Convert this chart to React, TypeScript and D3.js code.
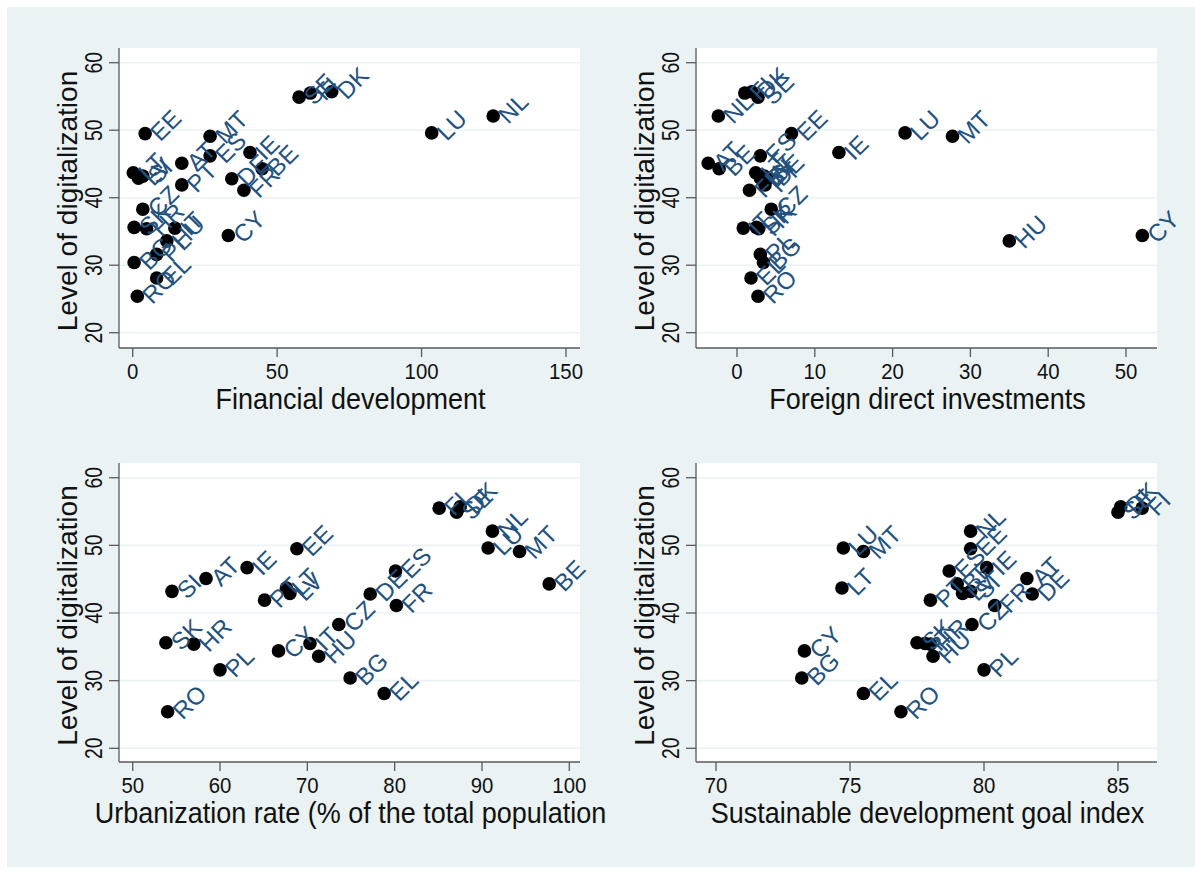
import React from "react";
import * as d3 from "d3";

const countries = ["AT","BE","BG","CY","CZ","DE","DK","EE","EL","ES","FI","FR","HR","HU","IE","IT","LT","LU","LV","MT","NL","PL","PT","RO","SE","SI","SK"];
const digitalization = [45.1,44.3,30.4,34.4,38.3,42.8,55.7,49.5,28.1,46.2,55.5,41.1,35.4,33.6,46.7,35.5,43.7,49.6,42.9,49.1,52.1,31.6,41.9,25.4,54.9,43.2,35.6];
const financialDev = [17.0,44.8,0.5,33.1,3.5,34.3,68.9,4.3,8.3,26.8,61.5,38.5,4.8,11.8,40.6,14.6,0.2,103.5,2.0,26.8,124.8,8.3,17.0,1.6,57.6,3.5,0.5];
const fdi = [-3.7,-2.3,3.4,52.1,4.4,3.9,1.9,7.0,1.8,3.0,1.0,1.6,2.8,35.0,13.1,0.8,2.4,21.6,3.0,27.7,-2.4,3.0,3.6,2.7,2.7,3.5,2.5];
const urbanization = [58.4,97.7,74.9,66.7,73.6,77.2,87.5,68.8,78.8,80.1,85.1,80.2,57.0,71.3,63.1,70.3,67.6,90.7,68.0,94.3,91.2,60.0,65.1,54.0,87.1,54.5,53.8];
const sdg = [81.6,79.0,73.2,73.3,79.55,81.8,85.1,79.5,75.5,78.7,85.9,80.4,78.0,78.1,80.1,77.8,74.7,74.75,79.2,75.5,79.5,80.0,78.0,76.9,85.0,79.5,77.5];

const yTicks = [20, 30, 40, 50, 60];
const xTicksFin = [0, 50, 100, 150];
const xTicksFdi = [0, 10, 20, 30, 40, 50];
const xTicksUrb = [50, 60, 70, 80, 90, 100];
const xTicksSdg = [70, 75, 80, 85];

const yTitle = "Level of digitalization";

const FONT = "'Liberation Sans', Arial, Helvetica, sans-serif";
const BG = "#eaf2f3";
const LABEL = "#22517e";
const AXIS = "#5a5a5a";

type PanelProps = {
  xs: number[];
  xTicks: number[];
  xDomain: [number, number];
  xRange: [number, number];
  box: [number, number, number, number]; // left, top, right, bottom
  yRange: [number, number];
  title: string;
};

function Panel({ xs, xTicks, xDomain, xRange, box, yRange, title }: PanelProps) {
  const [L, T, R, B] = box;
  const x = d3.scaleLinear().domain(xDomain).range(xRange);
  const y = d3.scaleLinear().domain([20, 60]).range(yRange);
  return (
    <g>
      <rect x={L} y={T} width={R - L} height={B - T} fill="#ffffff" />
      {yTicks.map((t) => (
        <line key={"g" + t} x1={L} x2={R} y1={y(t)} y2={y(t)} stroke={BG} strokeWidth={1.6} />
      ))}
      <line x1={L} x2={L} y1={T} y2={B} stroke={AXIS} strokeWidth={1.3} />
      <line x1={L} x2={R} y1={B} y2={B} stroke={AXIS} strokeWidth={1.3} />
      {yTicks.map((t) => (
        <g key={"y" + t}>
          <line x1={L - 10} x2={L} y1={y(t)} y2={y(t)} stroke={AXIS} strokeWidth={1.3} />
          <text
            transform={`translate(${L - 17},${y(t)}) rotate(-90) scale(0.92,1.1)`}
            textAnchor="middle"
            fontSize={21}
            fontFamily={FONT}
            fill="#111"
          >
            {t}
          </text>
        </g>
      ))}
      {xTicks.map((t) => (
        <g key={"x" + t}>
          <line x1={x(t)} x2={x(t)} y1={B} y2={B + 9} stroke={AXIS} strokeWidth={1.3} />
          <text
            transform={`translate(${x(t)},${B + 31}) scale(0.97,1.04)`}
            textAnchor="middle"
            fontSize={21}
            fontFamily={FONT}
            fill="#111"
          >
            {t}
          </text>
        </g>
      ))}
      <text
        transform={`translate(${L - 42},${(T + B) / 2 + 3}) rotate(-90) scale(1.08,1.05)`}
        textAnchor="middle"
        fontSize={26}
        fontFamily={FONT}
        fill="#111"
      >
        {yTitle}
      </text>
      <text
        transform={`translate(${(L + R) / 2 + 1},${B + 61}) scale(1.0,1.06)`}
        textAnchor="middle"
        fontSize={27}
        fontFamily={FONT}
        fill="#111"
      >
        {title}
      </text>
      {xs.map((v, i) => (
        <circle key={"c" + i} cx={x(v)} cy={y(digitalization[i])} r={6.8} fill="#000" />
      ))}
      {xs.map((v, i) => (
        <text
          key={"l" + i}
          transform={`translate(${x(v) + 9},${y(digitalization[i]) + 3}) rotate(-45)`}
          dominantBaseline="central"
          fontSize={24}
          fontFamily={FONT}
          fill={LABEL}
        >
          {countries[i]}
        </text>
      ))}
    </g>
  );
}

export default function App() {
  return (
    <svg width={1195} height={874} style={{ position: "absolute", left: 0, top: 0 }}>
      <rect x={0} y={0} width={1195} height={874} fill="#ffffff" />
      <rect x={7} y={7} width={1188} height={860} fill={BG} />
      <Panel xs={financialDev} xTicks={xTicksFin} xDomain={[0, 150]} xRange={[132.7, 566]} box={[119, 48, 580, 348]} yRange={[332.7, 62.7]} title="Financial development" />
      <Panel xs={fdi} xTicks={xTicksFdi} xDomain={[0, 50]} xRange={[737, 1126]} box={[696, 48, 1157, 348]} yRange={[332.7, 62.7]} title="Foreign direct investments" />
      <Panel xs={urbanization} xTicks={xTicksUrb} xDomain={[50, 100]} xRange={[132.7, 569.3]} box={[119, 463, 580, 762]} yRange={[748.3, 477.7]} title="Urbanization rate (% of the total population" />
      <Panel xs={sdg} xTicks={xTicksSdg} xDomain={[70, 85]} xRange={[716, 1118]} box={[696, 463, 1157, 762]} yRange={[748.3, 477.7]} title="Sustainable development goal index" />
    </svg>
  );
}
